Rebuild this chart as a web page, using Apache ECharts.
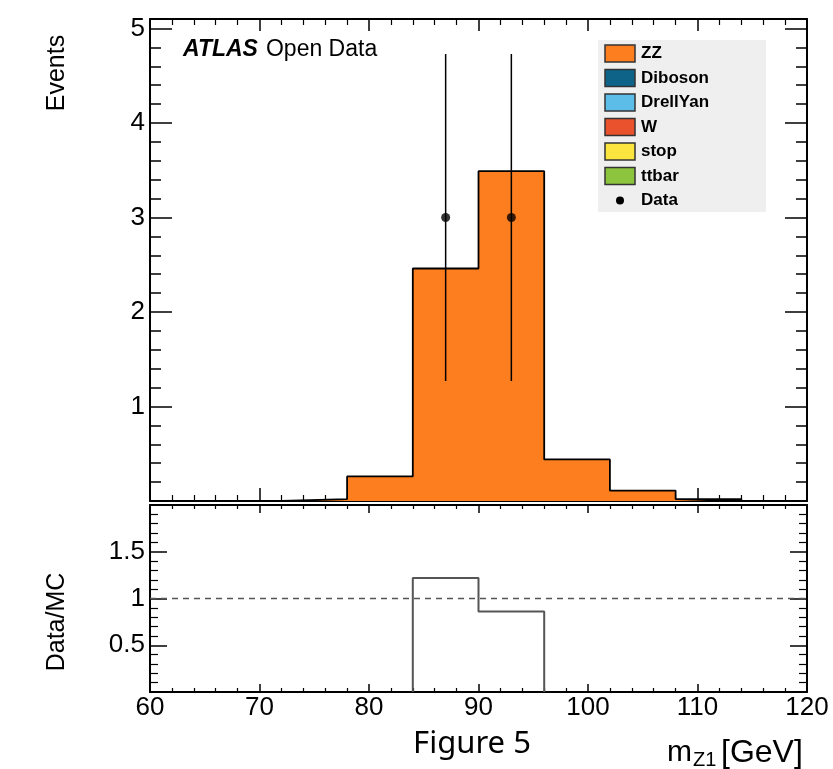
<!DOCTYPE html>
<html>
<head>
<meta charset="utf-8">
<title>m_Z1 - ATLAS Open Data</title>
<script src="https://cdn.jsdelivr.net/npm/echarts@6/dist/echarts.min.js"></script>
<style>
    html, body { margin: 0; padding: 0; background: #fff; }
    #main { width: 833px; height: 769px; }
</style>
</head>
<body>
<div id="main"></div>
<script type="text/javascript">
    // histogram bins (GeV) and stacked MC (only ZZ is non-zero here)
    var binEdges = [72, 78, 84, 90, 96, 102, 108, 114];
    var zzCounts = [0.02, 0.26, 2.46, 3.49, 0.44, 0.11, 0.02];
    // data points with sqrt(N) errors
    var dataX = [87, 93];
    var dataY = [3, 3];
    var dataErr = [1.73, 1.73];
    // data / MC ratio
    var ratioEdges = [84, 90, 96];
    var ratioVals = [1.22, 0.86];
    var ratioRef = 1;
    // x tick labels
    var xTicks = [60, 70, 80, 90, 100, 110, 120];
    // legend
    var legendNames = ['ZZ', 'Diboson', 'DrellYan', 'W', 'stop', 'ttbar'];
    var legendColors = ['#fd7e1f', '#0d6488', '#5cbde9', '#e9522d', '#fde540', '#8cc43d'];

    var FONT = "'Liberation Sans', Arial, sans-serif";

    // step outline of the histogram
    var zzStep = [[binEdges[0], 0]];
    for (var i = 0; i < zzCounts.length; i++) {
        zzStep.push([binEdges[i], zzCounts[i]]);
    }
    zzStep.push([binEdges[binEdges.length - 1], 0]);

    var ratioStep = [[ratioEdges[0], 0]];
    for (var j = 0; j < ratioVals.length; j++) {
        ratioStep.push([ratioEdges[j], ratioVals[j]]);
    }
    ratioStep.push([ratioEdges[ratioEdges.length - 1], 0]);

    var dataPts = [], errBars = [];
    for (var k = 0; k < dataX.length; k++) {
        dataPts.push([dataX[k], dataY[k]]);
        errBars.push([dataX[k], dataY[k] - dataErr[k], dataY[k] + dataErr[k]]);
    }

    function xAx(grid, pos, showLabel, major, minor) {
        return {
            type: 'value', gridIndex: grid, position: pos,
            min: xTicks[0], max: xTicks[xTicks.length - 1], interval: 10,
            axisLine: { show: true, onZero: false, lineStyle: { color: '#000', width: 2 } },
            axisTick: { show: true, inside: true, length: major, lineStyle: { color: '#000', width: 1.5 } },
            minorTick: { show: true, splitNumber: 5, length: minor, lineStyle: { color: '#000', width: 1.2 } },
            axisLabel: { show: showLabel, color: '#000', fontSize: 26, fontFamily: FONT, margin: 3 },
            splitLine: { show: false }
        };
    }

    function yAx(grid, pos, max, interval, len, showLine, showLabel, fmt) {
        return {
            type: 'value', gridIndex: grid, position: pos,
            min: 0, max: max, interval: interval,
            axisLine: { show: showLine, onZero: false, lineStyle: { color: '#000', width: 2 } },
            axisTick: { show: true, inside: true, length: len, lineStyle: { color: '#000', width: 1.5 } },
            axisLabel: { show: showLabel, color: '#000', fontSize: 26, fontFamily: FONT, margin: 5, formatter: fmt },
            splitLine: { show: false }
        };
    }

    var mainFmt = function (v) { return (v === 0 || v % 1 !== 0) ? '' : String(v); };
    var ratioFmt = function (v) { return (v === 0 || v === 2) ? '' : String(v); };

    var ratioLeft = yAx(1, 'left', 2, 0.5, 17, true, true, ratioFmt);
    ratioLeft.minorTick = { show: true, splitNumber: 5, length: 8, lineStyle: { color: '#000', width: 1.2 } };
    var ratioRight = yAx(1, 'right', 2, 0.5, 17, true, false);
    ratioRight.minorTick = { show: true, splitNumber: 5, length: 8, lineStyle: { color: '#000', width: 1.2 } };

    // legend built as graphic elements
    var graphics = [
        { type: 'rect', left: 598, top: 40, shape: { width: 168, height: 172 }, style: { fill: '#efefef' }, z: 10 }
    ];
    for (var m = 0; m < legendNames.length; m++) {
        var cy = 53.5 + m * 24.5;
        graphics.push({ type: 'rect', shape: { x: 605, y: cy - 8.5, width: 30, height: 17 },
            style: { fill: legendColors[m], stroke: '#333', lineWidth: 1.5 }, z: 11 });
        graphics.push({ type: 'text', x: 641, y: cy, style: { text: legendNames[m], fill: '#000',
            font: 'bold 17px ' + FONT, verticalAlign: 'middle' }, z: 11 });
    }
    var dy = 53.5 + 6 * 24.5;
    graphics.push({ type: 'circle', shape: { cx: 620, cy: dy, r: 4 }, style: { fill: '#000' }, z: 11 });
    graphics.push({ type: 'text', x: 641, y: dy, style: { text: 'Data', fill: '#000',
        font: 'bold 17px ' + FONT, verticalAlign: 'middle' }, z: 11 });

    // labels
    graphics.push({ type: 'text', x: 183, y: 50, style: {
        text: '{b|ATLAS}{n|Open Data}', verticalAlign: 'middle',
        rich: { b: { fontSize: 23, fontWeight: 'bold', fontStyle: 'italic', fontFamily: FONT, fill: '#000' },
                n: { fontSize: 23, fontFamily: FONT, fill: '#000', padding: [0, 0, 0, 8] } } }, z: 11 });
    graphics.push({ type: 'text', x: 57, y: 73, rotation: Math.PI / 2, style: {
        text: 'Events', font: '25px ' + FONT, fill: '#000', align: 'center', verticalAlign: 'middle' } });
    graphics.push({ type: 'text', x: 57, y: 622, rotation: Math.PI / 2, style: {
        text: 'Data/MC', font: '25px ' + FONT, fill: '#000', align: 'center', verticalAlign: 'middle' } });
    graphics.push({ type: 'text', x: 667, y: 753, style: {
        text: 'm', font: '30px ' + FONT, fill: '#000', align: 'left', verticalAlign: 'middle' } });
    graphics.push({ type: 'text', x: 693, y: 760, style: {
        text: 'Z1', font: '20px ' + FONT, fill: '#000', align: 'left', verticalAlign: 'middle' } });
    graphics.push({ type: 'text', x: 721, y: 753, style: {
        text: '[GeV]', font: '32px ' + FONT, fill: '#000', align: 'left', verticalAlign: 'middle' } });
    graphics.push({ type: 'text', x: 472, y: 744, style: {
        text: 'Figure 5', font: "31px 'Noto Sans', sans-serif", fill: '#000', align: 'center', verticalAlign: 'middle' } });

    var myChart = echarts.init(document.getElementById('main'));
    myChart.setOption({
        animation: false,
        backgroundColor: '#fff',
        grid: [
            { left: 150, top: 19, width: 657, height: 482 },
            { left: 150, top: 505, width: 657, height: 187 }
        ],
        xAxis: [
            xAx(0, 'bottom', false, 13, 6),
            xAx(0, 'top', false, 12, 6),
            xAx(1, 'bottom', true, 8, 4),
            xAx(1, 'top', false, 8, 4)
        ],
        yAxis: [
            yAx(0, 'left', 5.1, 1, 22, true, true, mainFmt),
            yAx(0, 'left', 5.1, 0.2, 11, false, false),
            yAx(0, 'right', 5.1, 1, 22, true, false),
            yAx(0, 'right', 5.1, 0.2, 11, false, false),
            ratioLeft,
            ratioRight
        ],
        series: [
            {
                name: 'ZZ', type: 'line', step: 'end', xAxisIndex: 0, yAxisIndex: 0,
                data: zzStep, showSymbol: false, symbol: 'none',
                lineStyle: { color: '#000', width: 1.8 },
                areaStyle: { color: legendColors[0], opacity: 1 },
                z: 2
            },
            {
                name: 'err', type: 'custom', xAxisIndex: 0, yAxisIndex: 0,
                data: errBars, encode: { x: 0, y: [1, 2] },
                renderItem: function (params, api) {
                    var p1 = api.coord([api.value(0), api.value(1)]);
                    var p2 = api.coord([api.value(0), api.value(2)]);
                    return { type: 'line', shape: { x1: p1[0], y1: p1[1], x2: p2[0], y2: p2[1] },
                        style: { stroke: '#000', lineWidth: 1.5 } };
                },
                z: 3
            },
            {
                name: 'Data', type: 'scatter', xAxisIndex: 0, yAxisIndex: 0,
                data: dataPts, symbol: 'circle', symbolSize: 9,
                itemStyle: { color: '#000' }, z: 4
            },
            {
                name: 'one', type: 'line', xAxisIndex: 2, yAxisIndex: 4,
                data: [[xTicks[0], ratioRef], [xTicks[xTicks.length - 1], ratioRef]],
                showSymbol: false, symbol: 'none',
                lineStyle: { color: '#555', width: 1.5, type: [6, 5] }, z: 2
            },
            {
                name: 'ratio', type: 'line', step: 'end', xAxisIndex: 2, yAxisIndex: 4,
                data: ratioStep, showSymbol: false, symbol: 'none',
                lineStyle: { color: '#555', width: 2 }, z: 3
            }
        ],
        graphic: graphics
    });
</script>
</body>
</html>
